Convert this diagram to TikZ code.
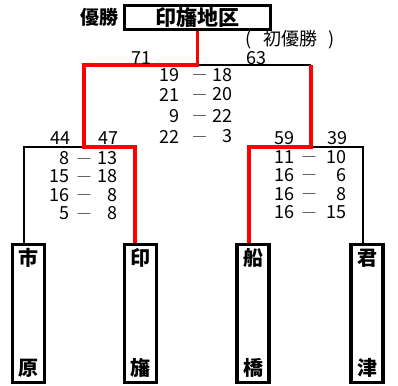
\documentclass[tikz,border=0pt]{standalone}
\usepackage{fontspec}
\setmainfont{Noto Sans CJK JP}
\usetikzlibrary{positioning}

\begin{document}
\begin{tikzpicture}[x=1pt,y=-1pt,
  every node/.style={inner sep=0pt},
  thinline/.style={line width=2pt},
  winline/.style={line width=3.5pt, red},
  teambox/.style={draw, line width=3.5pt, minimum width=32pt, minimum height=138pt},
  champbox/.style={draw, line width=3pt, minimum width=146pt, minimum height=23.7pt,
    font=\bfseries\fontsize{21}{21}\selectfont},
  teamname/.style={font=\bfseries\fontsize{20}{20}\selectfont},
  num/.style={font=\fontsize{18}{18}\selectfont},
  scoredash/.style={anchor=base, font=\fontsize{15}{15}\selectfont}]
  \useasboundingbox (0,0) rectangle (398,385);
  % champion
  \node[champbox] (final) at (197.7,17.3) {印旛地区};
  \node[font=\bfseries\fontsize{19}{19}\selectfont] (yusho) at (99,17) {優勝};
  \node[num] (first) at (290,40) {(\hspace{11pt}初優勝\hspace{11pt})};
  % teams
  \foreach \x/\ua/\ub/\n in {28.5/市/原/ichihara, 140.5/印/旛/inba,
      253/船/橋/funabashi, 367/君/津/kimitsu}{
    \node[teambox] (\n) at (\x,313.5) {};
    \node[teamname] (\n-top) at (\x,258) {\ua};
    \node[teamname] (\n-bot) at (\x,368) {\ub};
  }
  % junctions
  \coordinate (top) at (final.south |- 0,65);
  \coordinate (semiL) at (84,147);
  \coordinate (semiR) at (311,147);
  % losers
  \draw[thinline] (semiL) -| ([xshift=-4.5]ichihara.north);
  \draw[thinline] (semiR) -| ([xshift=-4]kimitsu.north);
  \draw[thinline] (top) -- (top -| semiR);
  % winners
  \draw[winline] (final.south) -- (top) -| (semiL) -| ([xshift=-5.5]inba.north);
  \draw[winline] (top -| semiR) -- (semiR) -| ([xshift=-4]funabashi.north);
  % points
  \node[num] (p71) at (141.7,58.5) {71};
  \node[num] (p63) at (256,58.5) {63};
  \node[num] (p44) at (60,138.5) {44};
  \node[num] (p47) at (108,138.5) {47};
  \node[num] (p59) at (284,138.5) {59};
  \node[num] (p39) at (337,138.5) {39};
  % final scores
  \foreach \a/\b/\y [count=\i] in {19/18/75, 21/20/94.5, 9/22/116, 22/3/136.5}{
    \node[num, anchor=east] (fa\i) at (180,\y) {\a};
    \node[scoredash] (fd\i) at (199.5,\y+5.9) {―};
    \node[num, anchor=east] (fb\i) at (233,\y) {\b};
  }
  % left semifinal scores
  \foreach \a/\b/\y [count=\i] in {8/13/158.5, 15/18/176.5, 16/8/195, 5/8/213.5}{
    \node[num, anchor=east] (la\i) at (70,\y) {\a};
    \node[scoredash] (ld\i) at (84,\y+5.9) {―};
    \node[num, anchor=east] (lb\i) at (118,\y) {\b};
  }
  % right semifinal scores
  \foreach \a/\b/\y [count=\i] in {11/10/157, 16/6/175, 16/8/194, 16/15/212.5}{
    \node[num, anchor=east] (ra\i) at (295,\y) {\a};
    \node[scoredash] (rd\i) at (309,\y+5.9) {―};
    \node[num, anchor=east] (rb\i) at (347,\y) {\b};
  }
\end{tikzpicture}
\end{document}
